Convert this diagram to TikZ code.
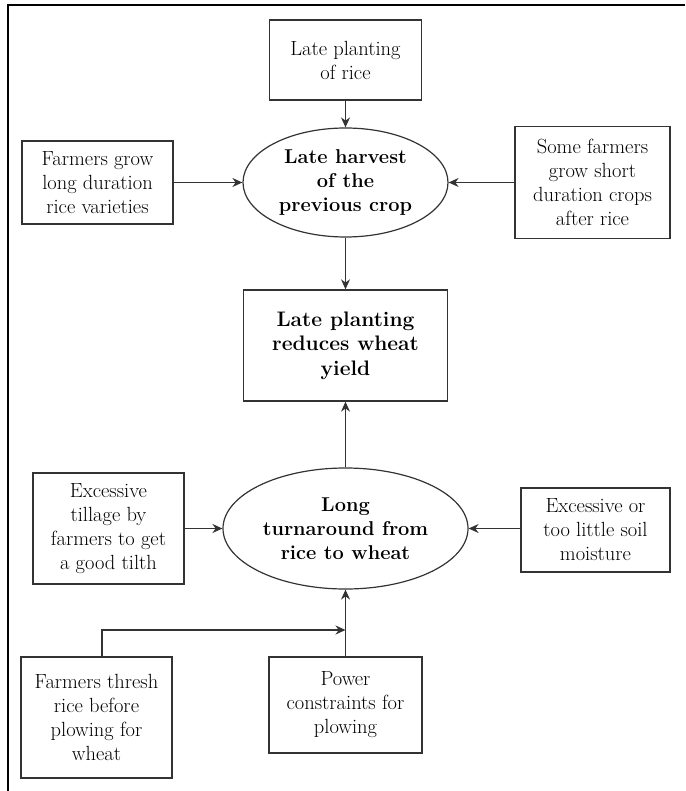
\documentclass[tikz,border=0pt]{standalone}
\usetikzlibrary{shapes.geometric,arrows.meta}
\begin{document}
\begin{tikzpicture}[x=1pt,y=-1pt,
  every node/.style={font=\fontsize{20.5}{24}\selectfont, align=center, inner sep=0pt, text=black},
  boxnode/.style={draw=black!80, line width=1.4pt, rectangle},
  ellnode/.style={draw=black!80, line width=1.2pt, ellipse, font=\fontsize{20}{24}\selectfont\bfseries},
  conn/.style={draw=black!80, line width=1.1pt, -{Stealth[length=10pt,width=9pt]}}
]
\useasboundingbox (0,0) rectangle (685,791);
\draw[line width=2pt] (8,791) -- (8,5) -- (685,5);

\node[boxnode, minimum width=152pt, minimum height=80pt] (top) at (345.5,60) {Late planting\\of rice};
\node[ellnode, minimum width=205pt, minimum height=109pt] (e1) at (345.5,182.5) {Late harvest\\of the\\previous crop};
\node[boxnode, minimum width=151pt, minimum height=83pt] (left1) at (97.5,182.5) {Farmers grow\\long duration\\rice varieties};
\node[boxnode, minimum width=155pt, minimum height=112pt] (right1) at (592.5,182.5) {Some farmers\\grow short\\duration crops\\after rice};
\node[boxnode, minimum width=204pt, minimum height=111pt, font=\fontsize{21}{24.5}\selectfont\bfseries] (center) at (345.5,345.5) {Late planting\\reduces wheat\\yield};
\node[ellnode, minimum width=245pt, minimum height=121pt] (e2) at (345.5,528.5) {Long\\turnaround from\\rice to wheat};
\node[boxnode, minimum width=151pt, minimum height=111pt] (left2) at (108.5,528.5) {Excessive\\tillage by\\farmers to get\\a good tilth};
\node[boxnode, minimum width=149pt, minimum height=84pt] (right2) at (595.5,530) {Excessive or\\too little soil\\moisture};
\node[boxnode, minimum width=151pt, minimum height=121pt] (thresh) at (96.5,717.5) {Farmers thresh\\rice before\\plowing for\\wheat};
\node[boxnode, minimum width=153pt, minimum height=96pt] (power) at (345.5,705) {Power\\constraints for\\plowing};

\coordinate (j) at (345.5,630);
\draw[conn] (top.south) -- (e1.north);
\draw[conn] (left1.east) -- (e1.west);
\draw[conn] (right1.west) -- (e1.east);
\draw[conn] (e1.south) -- (center.north);
\draw[conn] (e2.north) -- (center.south);
\draw[conn] (left2.east) -- (e2.west);
\draw[conn] (right2.west |- e2.east) -- (e2.east);
\draw[conn] (power.north) -- (e2.south);
\draw[conn] (thresh.north -| 102,0) -- (102,630) -- (j);
\end{tikzpicture}
\end{document}
